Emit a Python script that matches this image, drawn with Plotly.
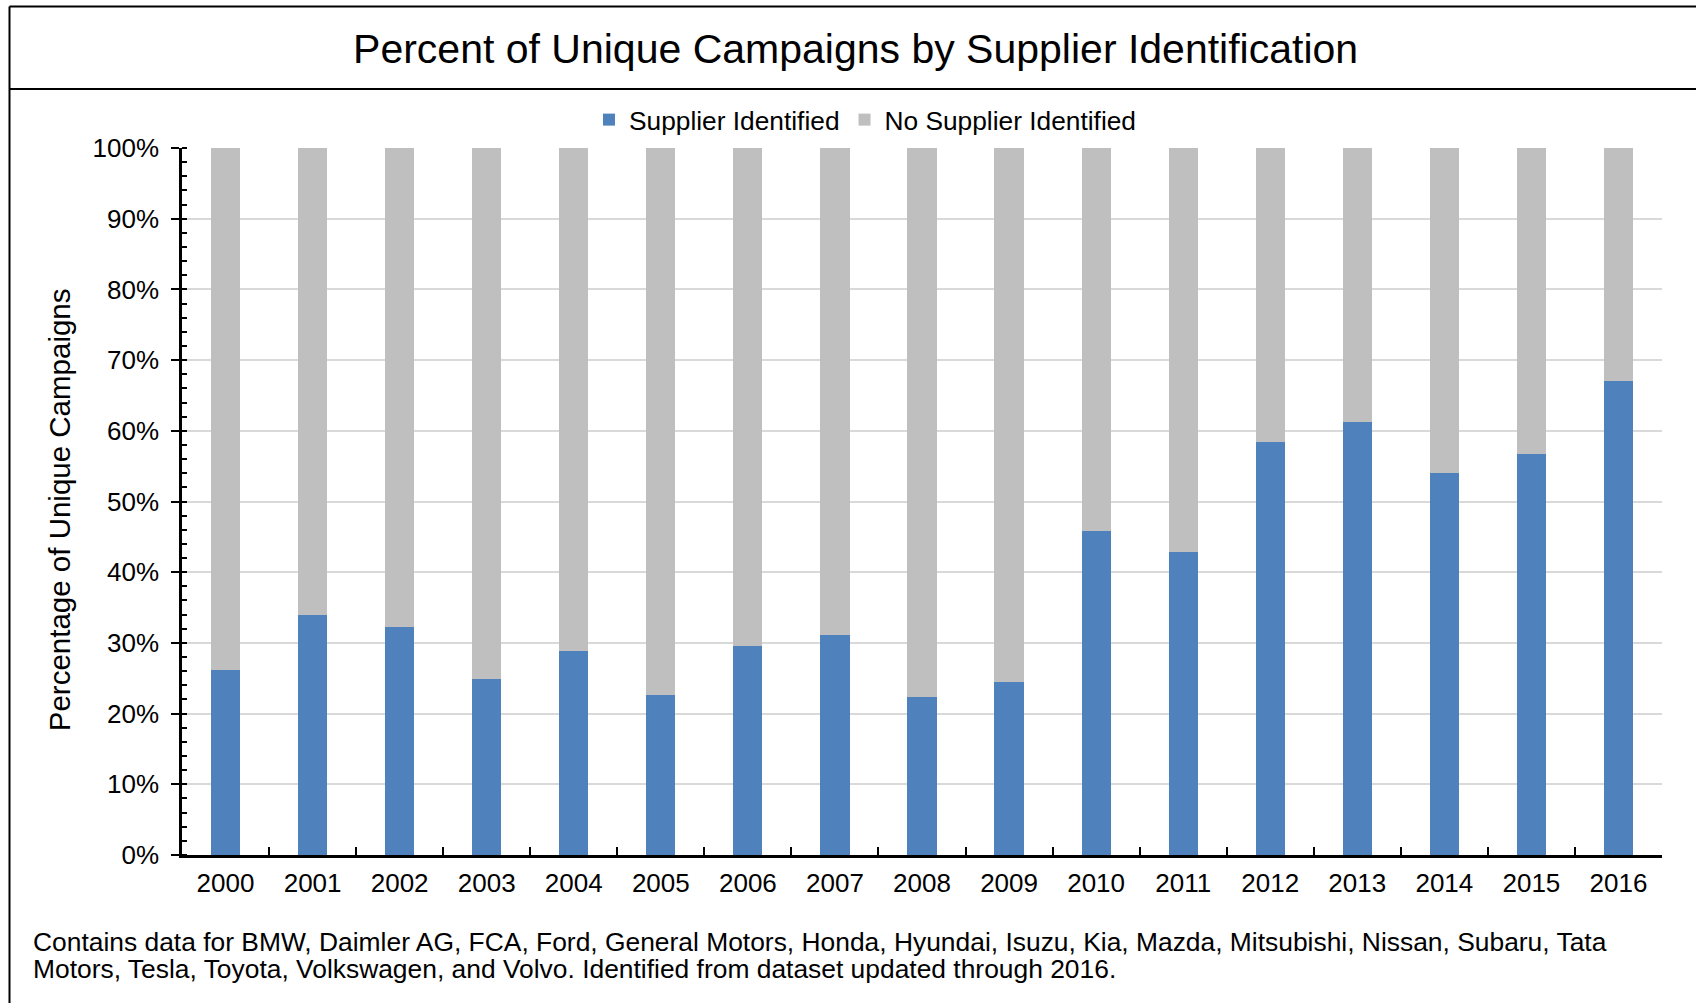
import plotly.graph_objects as go

years = ["2000", "2001", "2002", "2003", "2004", "2005", "2006", "2007", "2008",
         "2009", "2010", "2011", "2012", "2013", "2014", "2015", "2016"]
supplier_identified = [26.1, 34.0, 32.2, 24.9, 28.8, 22.6, 29.5, 31.1, 22.3,
                       24.4, 45.8, 42.8, 58.4, 61.3, 54.0, 56.7, 67.0]
no_supplier_identified = [round(100 - v, 1) for v in supplier_identified]
y_ticks = [0, 10, 20, 30, 40, 50, 60, 70, 80, 90, 100]
y_tick_labels = [f"{v}%" for v in y_ticks]

title_text = "Percent of Unique Campaigns by Supplier Identification"
y_title = "Percentage of Unique Campaigns"
foot1 = ("Contains data for BMW, Daimler AG, FCA, Ford, General Motors, Honda, Hyundai, Isuzu, Kia, "
         "Mazda, Mitsubishi, Nissan, Subaru, Tata")
foot2 = "Motors, Tesla, Toyota, Volkswagen, and Volvo. Identified from dataset updated through 2016."

W, H = 1696, 1003
ML, MR, MT, MB = 182, 34, 148, 147.5
PW = W - ML - MR
PH = H - MT - MB
FONT = "Liberation Sans, Arial, sans-serif"


def px(x):
    return (x - ML) / PW


def py(y):
    return (H - MB - y) / PH


fig = go.Figure()
fig.add_trace(go.Bar(x=years, y=supplier_identified, name="Supplier Identified",
                     marker=dict(color="#4f81bd", line=dict(width=0))))
fig.add_trace(go.Bar(x=years, y=no_supplier_identified, name="No Supplier Identified",
                     marker=dict(color="#bfbfbf", line=dict(width=0))))

line_col = "#000000"
shapes = [
    dict(type="line", xref="paper", yref="paper", x0=px(9.5), x1=px(W + 5), y0=py(6.5), y1=py(6.5),
         line=dict(color=line_col, width=2)),
    dict(type="line", xref="paper", yref="paper", x0=px(9.5), x1=px(W + 5), y0=py(89), y1=py(89),
         line=dict(color=line_col, width=2)),
    dict(type="line", xref="paper", yref="paper", x0=px(9.5), x1=px(9.5), y0=py(6.5), y1=py(H + 5),
         line=dict(color=line_col, width=2)),
]

annotations = [
    dict(text=y_title, xref="paper", yref="paper", x=px(59.5), y=py(510), showarrow=False,
         textangle=-90, font=dict(family=FONT, size=29.5, color="#000"),
         xanchor="center", yanchor="middle"),
    dict(text=foot1, xref="paper", yref="paper", x=px(31), y=py(943), showarrow=False,
         font=dict(family=FONT, size=26.4, color="#000"), xanchor="left", yanchor="middle"),
    dict(text=foot2, xref="paper", yref="paper", x=px(31), y=py(970), showarrow=False,
         font=dict(family=FONT, size=26.4, color="#000"), xanchor="left", yanchor="middle"),
]

fig.update_layout(
    width=W, height=H,
    margin=dict(l=ML, r=MR, t=MT, b=MB, autoexpand=False),
    paper_bgcolor="white", plot_bgcolor="white",
    barmode="stack", bargap=0.665,
    font=dict(family=FONT, size=26, color="#000"),
    title=dict(text=title_text, x=855.6 / W, y=1 - 48.7 / H, xref="container",
               yref="container", xanchor="center", yanchor="middle",
               font=dict(family=FONT, size=41, color="#000")),
    legend=dict(orientation="h", x=px(865), y=py(120), xanchor="center", yanchor="middle",
                font=dict(family=FONT, size=26.3, color="#000"), bgcolor="rgba(0,0,0,0)",
                traceorder="normal"),
    shapes=shapes,
    annotations=annotations,
    showlegend=True,
)

fig.update_xaxes(
    type="category", showline=True, linecolor="#000", linewidth=2.5,
    ticks="inside", tickson="boundaries", ticklen=8, tickwidth=2, tickcolor="#000",
    showgrid=False, tickfont=dict(family=FONT, size=26, color="#000"),
    ticklabelstandoff=3,
)
fig.update_yaxes(
    range=[0, 100], tickvals=y_ticks, ticktext=y_tick_labels,
    showline=True, linecolor="#000", linewidth=2.5,
    ticks="outside", ticklen=8, tickwidth=2, tickcolor="#000",
    showgrid=True, gridcolor="#d9d9d9", gridwidth=1.5,
    minor=dict(dtick=2, ticks="inside", ticklen=5, tickwidth=1.5, tickcolor="#000", showgrid=False),
    tickfont=dict(family=FONT, size=26, color="#000"), zeroline=False,
    ticklabelstandoff=7,
)

fig.write_html("out.html", config={"displayModeBar": False},
               post_script="document.body.style.margin='0';")
